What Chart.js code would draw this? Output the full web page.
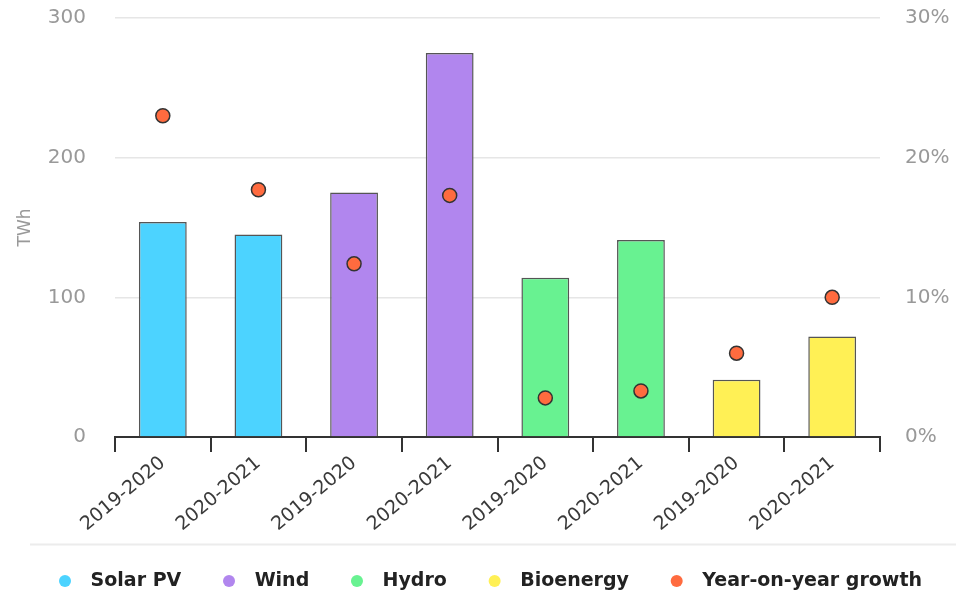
<!DOCTYPE html>
<html>
<head>
<meta charset="utf-8">
<script src="https://cdn.jsdelivr.net/npm/chart.js@4.4.1/dist/chart.umd.min.js"></script>
<style>
  html, body { margin: 0; padding: 0; background: #fff; }
  #wrap { width: 956px; height: 596px; position: relative; }
</style>
</head>
<body>
<div id="wrap"><canvas id="chart"></canvas></div>
<script>
// periods on the x axis, with the technology each bar belongs to
const periods = ['2019-2020', '2020-2021', '2019-2020', '2020-2021', '2019-2020', '2020-2021', '2019-2020', '2020-2021'];
const techOfBar = ['Solar PV', 'Solar PV', 'Wind', 'Wind', 'Hydro', 'Hydro', 'Bioenergy', 'Bioenergy'];
const technologies = ['Solar PV', 'Wind', 'Hydro', 'Bioenergy'];
const techColors = ['#4cd3ff', '#b186ee', '#68f291', '#fff055'];

// generation increase, TWh
const twh = [154, 145, 175, 275, 114, 141, 41, 72];
// year-on-year growth, %
const growth = [23.0, 17.7, 12.4, 17.3, 2.8, 3.3, 6.0, 10.0];

const yTicks = [0, 100, 200, 300];
const y1Ticks = [0, 10, 20, 30];

const barSets = technologies.map((tech, i) => ({
    type: 'bar',
    label: tech,
    data: twh.map((v, j) => techOfBar[j] === tech ? v : null),
    backgroundColor: techColors[i],
    borderColor: '#555',
    borderWidth: 1.5,
    barPercentage: 0.5,
    categoryPercentage: 1,
    yAxisID: 'y'
}));

const growthSet = {
    type: 'line',
    label: 'Year-on-year growth',
    data: growth,
    showLine: false,
    pointRadius: 7,
    pointHoverRadius: 7,
    pointBackgroundColor: '#ff6b3f',
    pointBorderColor: '#333',
    pointBorderWidth: 1.5,
    backgroundColor: '#ff6b3f',
    borderColor: '#333',
    order: -1,
    yAxisID: 'y1'
};

// thin rule between the axis labels and the legend
const legendRule = {
    id: 'legendRule',
    afterDraw(chart) {
        const lg = chart.legend;
        if (!lg) return;
        const ctx = chart.ctx;
        ctx.save();
        ctx.strokeStyle = '#ececec';
        ctx.lineWidth = 2;
        ctx.beginPath();
        ctx.moveTo(30, lg.top - 2);
        ctx.lineTo(chart.width, lg.top - 2);
        ctx.stroke();
        ctx.restore();
    }
};

const ctx = document.getElementById('chart').getContext('2d');
new Chart(ctx, {
    data: {
        labels: periods,
        datasets: [...barSets, growthSet]
    },
    plugins: [legendRule],
    options: {
        responsive: true,
        maintainAspectRatio: false,
        animation: false,
        layout: { padding: { left: 30.5, top: 0, right: 0, bottom: 0 } },
        plugins: {
            tooltip: { enabled: false },
            legend: {
                position: 'bottom',
                align: 'start',
                maxHeight: 49.5,
                labels: {
                    usePointStyle: true,
                    pointStyle: 'circle',
                    boxWidth: 19,
                    boxHeight: 8.5,
                    padding: 25,
                    color: '#222',
                    font: { family: '"DejaVu Sans", sans-serif', size: 19, weight: 'bold' },
                    sort: (a, b) => a.datasetIndex - b.datasetIndex,
                    generateLabels(chart) {
                        // a little extra room around each label text (none after the last one)
                        const last = chart.data.datasets.length - 1;
                        return Chart.defaults.plugins.legend.labels.generateLabels(chart).map(l => ({
                            ...l,
                            text: ' ' + l.text + (l.datasetIndex < last ? '  ' : ''),
                            lineWidth: 0,
                            strokeStyle: 'rgba(0,0,0,0)'
                        }));
                    }
                }
            }
        },
        scales: {
            x: {
                stacked: true,
                afterFit: axis => { axis.paddingLeft = 0; axis.paddingRight = 0; axis.height = 109.5; },
                grid: {
                    display: true,
                    drawOnChartArea: false,
                    drawTicks: true,
                    tickLength: 15,
                    color: '#333',
                    lineWidth: 2
                },
                border: { display: true, color: '#333', width: 2 },
                ticks: {
                    minRotation: 40,
                    maxRotation: 40,
                    padding: 0,
                    color: '#3a3a3a',
                    font: { family: '"DejaVu Sans", sans-serif', size: 19 }
                }
            },
            y: {
                position: 'left',
                min: 0,
                max: 300,
                afterBuildTicks: axis => { axis.ticks = yTicks.map(v => ({ value: v })); },
                afterFit: axis => { axis.width = 84.5; axis.paddingTop = 18; axis.paddingBottom = 0; },
                grid: { color: '#e6e6e6', lineWidth: 1.5, drawTicks: false },
                border: { display: false },
                title: {
                    display: true,
                    text: 'TWh',
                    color: '#999',
                    padding: { top: -15, bottom: 10 },
                    font: { family: '"DejaVu Sans", sans-serif', size: 17 }
                },
                ticks: {
                    padding: 29,
                    color: '#999',
                    font: { family: '"DejaVu Sans", sans-serif', size: 20 }
                }
            },
            y1: {
                position: 'right',
                min: 0,
                max: 30,
                afterBuildTicks: axis => { axis.ticks = y1Ticks.map(v => ({ value: v })); },
                afterFit: axis => { axis.width = 76; axis.paddingTop = 18; axis.paddingBottom = 0; },
                grid: { display: false, drawTicks: false },
                border: { display: false },
                ticks: {
                    padding: 25,
                    color: '#999',
                    font: { family: '"DejaVu Sans", sans-serif', size: 20 },
                    callback: v => v + '%'
                }
            }
        }
    }
});
</script>
</body>
</html>
